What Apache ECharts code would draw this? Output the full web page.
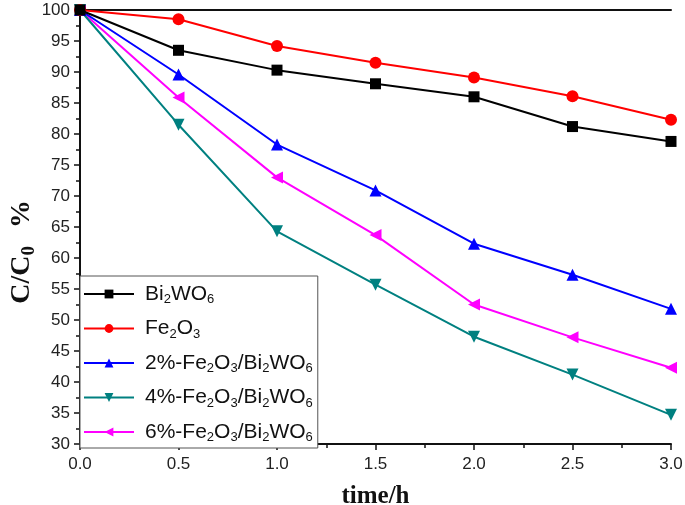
<!DOCTYPE html>
<html>
<head>
<meta charset="utf-8">
<script src="https://cdn.jsdelivr.net/npm/echarts@6/dist/echarts.min.js"></script>
<style>
html, body { margin: 0; padding: 0; background: #fff; }
#chart { width: 685px; height: 505px; }
</style>
</head>
<body>
<div id="chart"></div>
<script>
//---------------------------Data---------------------------
let times = [0, 0.5, 1.0, 1.5, 2.0, 2.5, 3.0];

let bi2wo6 = [100, 93.5, 90.3, 88.1, 86.0, 81.2, 78.8];
let fe2o3 = [100, 98.5, 94.2, 91.5, 89.1, 86.1, 82.3];
let fe2pct = [100, 89.6, 78.3, 70.9, 62.3, 57.3, 51.8];
let fe4pct = [100, 81.5, 64.3, 55.7, 47.3, 41.2, 34.7];
let fe6pct = [100, 85.9, 73.0, 63.7, 52.5, 47.2, 42.3];

let names = ['Bi2WO6', 'Fe2O3', '2%-Fe2O3/Bi2WO6', '4%-Fe2O3/Bi2WO6', '6%-Fe2O3/Bi2WO6'];
let colors = ['#000000', '#ff0000', '#0000ff', '#008080', '#ff00ff'];
let symbols = ['rect', 'circle', 'triangle', 'triangle', 'triangle'];
let rotates = [0, 0, 0, 180, 90];
let values = [bi2wo6, fe2o3, fe2pct, fe4pct, fe6pct];

//---------------------------Chart---------------------------
let chart = echarts.init(document.getElementById('chart'));

function pairs(arr) {
    let out = [];
    for (let i = 0; i < times.length; i++) {
        out.push([times[i], arr[i]]);
    }
    return out;
}

//legend labels with subscripts
function legendLabel(name) {
    return name.replace(/(Bi|Fe|O|W)(\d)/g, function (m, a, b) {
        return a + '{sub|' + b + '}';
    });
}

let series = [];
for (let i = 0; i < names.length; i++) {
    series.push({
        name: names[i],
        type: 'line',
        data: pairs(values[i]),
        symbol: symbols[i],
        symbolSize: i == 0 ? 11 : 12,
        symbolRotate: rotates[i],
        itemStyle: { color: colors[i] },
        lineStyle: { color: colors[i], width: 2 },
        z: 10 - i
    });
}

let axisText = { color: '#222', fontSize: 17, fontFamily: 'Liberation Sans, Arial' };
let serif = 'Liberation Serif, Times New Roman';

let option = {
    animation: false,
    grid: { left: 80, right: 14, top: 10, bottom: 61, outerBoundsMode: 'none', containLabel: false },
    legend: {
        orient: 'vertical',
        left: 80,
        top: 276,
        data: names,
        itemWidth: 50,
        itemHeight: 11,
        itemGap: 9.5,
        padding: [5, 5, 4, 3],
        borderColor: '#555',
        borderWidth: 1,
        borderRadius: 0,
        backgroundColor: '#fff',
        formatter: legendLabel,
        textStyle: {
            fontSize: 21,
            lineHeight: 24,
            color: '#111',
            fontFamily: 'Liberation Sans, Arial',
            padding: [0, 0, 0, 6],
            rich: {
                sub: { fontSize: 13, lineHeight: 12, verticalAlign: 'bottom', padding: [12, 0, 0, 0], fontFamily: 'Liberation Sans, Arial', color: '#111' }
            }
        }
    },
    graphic: [{
        type: 'text',
        left: 8,
        top: 200,
        rotation: Math.PI / 2,
        style: {
            text: 'C/C{sub|0}{pct|%}',
            font: 'bold 28px ' + serif,
            fill: '#111',
            rich: {
                sub: { fontSize: 19, fontWeight: 'bold', fontFamily: serif, padding: [14, 0, 0, 0], fill: '#111' },
                pct: { fontSize: 28, fontWeight: 'bold', fontFamily: serif, padding: [0, 0, 0, 18], fill: '#111' }
            }
        }
    }],
    xAxis: {
        type: 'value',
        min: 0,
        max: 3,
        interval: 0.5,
        name: 'time/h',
        nameLocation: 'middle',
        nameGap: 40,
        nameTextStyle: { fontSize: 25, fontWeight: 'bold', fontFamily: serif, color: '#111' },
        axisLine: { show: true, onZero: false, lineStyle: { color: '#111', width: 2 } },
        axisTick: { show: true, length: 6, lineStyle: { color: '#111', width: 1.5 } },
        minorTick: { show: true, splitNumber: 2, length: 4, lineStyle: { color: '#111', width: 1.5 } },
        axisLabel: Object.assign({ margin: 12, formatter: function (v) { return v.toFixed(1); } }, axisText),
        splitLine: { show: false }
    },
    yAxis: {
        type: 'value',
        min: 30,
        max: 100,
        interval: 5,
        axisLine: { show: true, onZero: false, lineStyle: { color: '#111', width: 2 } },
        axisTick: { show: true, length: 6, lineStyle: { color: '#111', width: 1.5 } },
        minorTick: { show: true, splitNumber: 2, length: 4, lineStyle: { color: '#111', width: 1.5 } },
        axisLabel: Object.assign({ margin: 10 }, axisText),
        splitLine: { show: false }
    },
    series: series
};

//box lines on top and right
option.xAxis = [option.xAxis, {
    type: 'value', min: 0, max: 3, position: 'top',
    axisLine: { show: true, lineStyle: { color: '#111', width: 2 } },
    axisTick: { show: false }, axisLabel: { show: false }, splitLine: { show: false }
}];
option.yAxis = [option.yAxis, {
    type: 'value', min: 30, max: 100, position: 'right',
    axisLine: { show: true, lineStyle: { color: '#111', width: 2 } },
    axisTick: { show: false }, axisLabel: { show: false }, splitLine: { show: false }
}];

chart.setOption(option);
window.onresize = function () {
    chart.resize();
};
</script>
</body>
</html>
